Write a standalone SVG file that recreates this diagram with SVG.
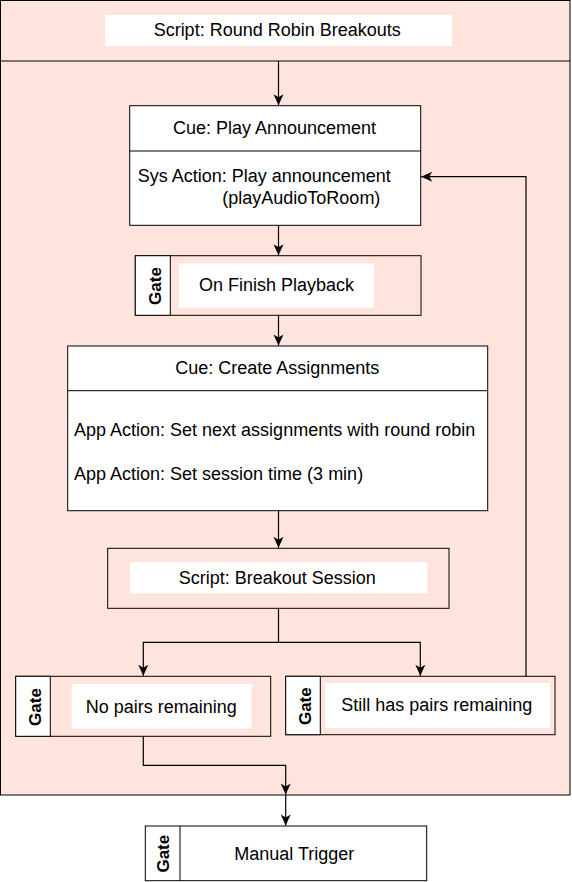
<svg xmlns="http://www.w3.org/2000/svg" width="572" height="882" viewBox="0 0 572 882">
<style>
  text { font-family: "Liberation Sans", Arial, Helvetica, sans-serif; font-size: 18px; fill: #000; }
  .c { text-anchor: middle; }
  .gate { font-weight: bold; font-size: 17px; text-anchor: middle; }
  .box { stroke: #000; stroke-width: 1; }
  .pink { fill: #ffe4dd; }
  .white { fill: #fff; }
  .lbl { fill: #fff; stroke: none; }
  .edge { fill: none; stroke: #000; stroke-width: 1.2; }
</style>
<defs>
  <marker id="arr" viewBox="-12 -6 13 12" refX="0" refY="0" markerWidth="13" markerHeight="12" markerUnits="userSpaceOnUse" orient="auto">
    <path d="M0,0 L-11,5 L-8,0 L-11,-5 Z" fill="#000"/>
  </marker>
</defs>
<rect width="572" height="882" fill="#fff"/>

<g id="container">
  <rect class="box pink" x="0.5" y="0.5" width="569.5" height="794.5"/>
  <line x1="0.5" y1="61" x2="570" y2="61" stroke="#000" stroke-width="1"/>
  <rect class="lbl" x="105" y="15" width="347" height="31"/>
  <text class="c" x="277.2" y="36">Script: Round Robin Breakouts</text>
</g>

<g id="cue-play">
  <rect class="box white" x="129.7" y="105.7" width="291" height="119.6"/>
  <line x1="129.7" y1="151" x2="420.7" y2="151" stroke="#000" stroke-width="1"/>
  <text class="c" x="274.5" y="134.3">Cue: Play Announcement</text>
  <text x="137.7" y="182.3">Sys Action: Play announcement</text>
  <text x="222.3" y="204">(playAudioToRoom)</text>
</g>

<g id="gate-finish">
  <rect class="box pink" x="135.3" y="255.7" width="285.7" height="59.6"/>
  <rect class="box white" x="135.3" y="255.7" width="35" height="59.6"/>
  <rect class="lbl" x="179" y="263.3" width="195" height="44.4"/>
  <text class="gate" transform="translate(160.7,286) rotate(-90)">Gate</text>
  <text class="c" x="276.5" y="290.7">On Finish Playback</text>
</g>

<g id="cue-assign">
  <rect class="box white" x="67.7" y="346" width="420" height="164.7"/>
  <line x1="67.7" y1="390.7" x2="487.7" y2="390.7" stroke="#000" stroke-width="1"/>
  <text class="c" x="277.2" y="374">Cue: Create Assignments</text>
  <text x="74" y="435.5">App Action: Set next assignments with round robin</text>
  <text x="74" y="479.5">App Action: Set session time (3 min)</text>
</g>

<g id="script-breakout">
  <rect class="box pink" x="107.7" y="548.3" width="341.3" height="60"/>
  <rect class="lbl" x="130" y="562.3" width="297.3" height="31"/>
  <text class="c" x="277.3" y="584">Script: Breakout Session</text>
</g>

<g id="gate-nopairs">
  <rect class="box pink" x="15.7" y="676.3" width="255" height="60"/>
  <rect class="box white" x="15.7" y="676.3" width="34.6" height="60"/>
  <rect class="lbl" x="71.7" y="684" width="180" height="44.7"/>
  <text class="gate" transform="translate(40.7,707) rotate(-90)">Gate</text>
  <text class="c" x="161.2" y="712.7">No pairs remaining</text>
</g>

<g id="gate-stillpairs">
  <rect class="box pink" x="285.7" y="676.3" width="269.3" height="58.4"/>
  <rect class="box white" x="285.7" y="676.3" width="34.6" height="58.4"/>
  <rect class="lbl" x="325" y="683" width="225" height="45"/>
  <text class="gate" transform="translate(310.7,706.2) rotate(-90)">Gate</text>
  <text class="c" x="436.7" y="711">Still has pairs remaining</text>
</g>

<g id="gate-manual">
  <rect class="box white" x="145.3" y="826" width="281.4" height="54.7"/>
  <line x1="180" y1="826" x2="180" y2="880.7" stroke="#000" stroke-width="1"/>
  <text class="gate" transform="translate(168.7,853.7) rotate(-90)">Gate</text>
  <text class="c" x="294.3" y="860">Manual Trigger</text>
</g>

<g id="connectors">
  <path class="edge" d="M278.5,61 V105.2" marker-end="url(#arr)"/>
  <path class="edge" d="M278.5,225.3 V255.2" marker-end="url(#arr)"/>
  <path class="edge" d="M278.5,315.3 V345.5" marker-end="url(#arr)"/>
  <path class="edge" d="M278.5,510.7 V547.8" marker-end="url(#arr)"/>
  <path class="edge" d="M278.5,608.3 V642.3 H143.3 V675.8" marker-end="url(#arr)"/>
  <path class="edge" d="M278.5,642.3 H420.3 V675.8" marker-end="url(#arr)"/>
  <path class="edge" d="M526,676.3 V176.7 H421.2" marker-end="url(#arr)"/>
  <path class="edge" d="M143.3,736.3 V765.3 H285.7 V794.5" marker-end="url(#arr)"/>
  <path class="edge" d="M285.7,795 V825.5" marker-end="url(#arr)"/>
</g>
</svg>
